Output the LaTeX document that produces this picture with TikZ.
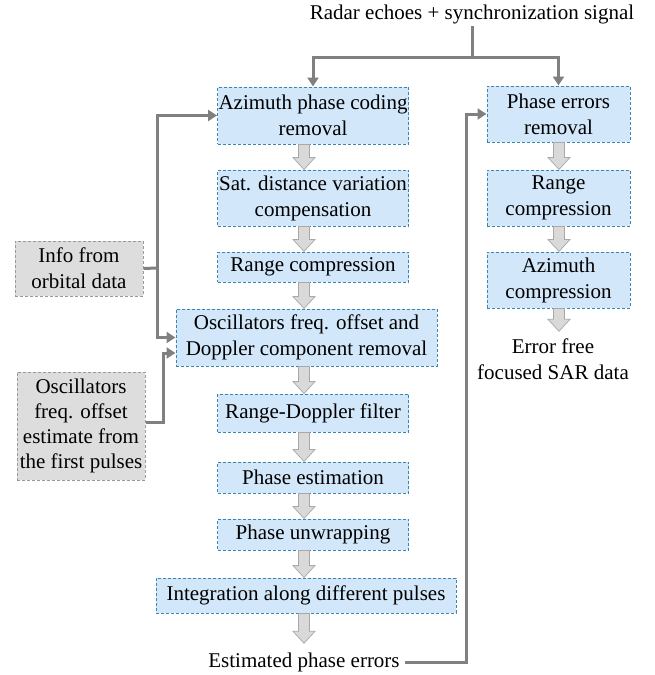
\documentclass[tikz,border=0pt]{standalone}
\usepackage{fontspec}
\setmainfont{Liberation Serif}
\newfontfamily\timesfont{Liberation Serif}
\usetikzlibrary{arrows.meta,calc}
\definecolor{bfill}{HTML}{D2E7F9}
\definecolor{bline}{HTML}{3A86B0}
\definecolor{gfill}{HTML}{DDDDDD}
\definecolor{gline}{HTML}{9A9A9A}
\definecolor{bafill}{HTML}{D9D9D9}
\definecolor{baline}{HTML}{A8A8A8}
\definecolor{conncol}{HTML}{808080}
\newcommand\blockarr[3]{\filldraw[draw=baline,fill=bafill,line width=0.7pt] let \p1=#2, \p2=#3 in
  (#1pt-5.5pt,\y1) -- (#1pt+5.5pt,\y1) -- (#1pt+5.5pt,\y2+12pt) -- (#1pt+11pt,\y2+12pt) --
  (#1pt,\y2) -- (#1pt-11pt,\y2+12pt) -- (#1pt-5.5pt,\y2+12pt) -- cycle;}
\begin{document}
\begin{tikzpicture}[x=1pt,y=-1pt,font=\timesfont\fontsize{21}{26}\selectfont,
  proc/.style={draw=bline,dash pattern=on 3pt off 2pt,line width=1pt,fill=bfill,align=center,inner sep=0pt},
  gbox/.style={draw=gline,dash pattern=on 3pt off 2pt,line width=1pt,fill=gfill,align=center,inner sep=0pt},
  plain/.style={align=center,inner sep=0pt},
  conn/.style={draw=conncol,line width=3pt},
  arr/.style={conn,-{Triangle[length=9pt,width=11pt]}}]
\useasboundingbox (0,0) rectangle (655,675);
% left column
\node[proc,minimum width=191pt,minimum height=57pt] (az) at (313,115.5) {Azimuth phase coding\\removal};
\node[proc,minimum width=191pt,minimum height=56pt] (sat) at (313,198) {Sat. distance variation\\compensation};
\node[proc,minimum width=191pt,minimum height=30pt] (rc) at (313,267) {Range compression};
\node[proc,minimum width=261pt,minimum height=57pt] (osc) at (306.5,337.5) {Oscillators freq. offset and\\Doppler component removal};
\node[proc,minimum width=191pt,minimum height=38pt] (rd) at (313,413) {Range-Doppler filter};
\node[proc,minimum width=191pt,minimum height=31pt] (pest) at (313,477.5) {Phase estimation};
\node[proc,minimum width=191pt,minimum height=31pt] (pu) at (313,534.5) {Phase unwrapping};
\node[proc,minimum width=300pt,minimum height=35pt] (integ) at (306,595.5) {Integration along different pulses};
\node[plain] (est) at (304,662) {Estimated phase errors};
% top
\node[plain] (radar) at (472,14) {Radar echoes + synchronization signal};
% right column
\node[proc,minimum width=143pt,minimum height=56pt] (pe) at (558.5,114) {Phase errors\\removal};
\node[proc,minimum width=143pt,minimum height=56pt] (rc2) at (558.5,198) {Range\\compression};
\node[proc,minimum width=143pt,minimum height=56pt] (ac) at (558.5,280) {Azimuth\\compression};
\node[plain] (ef) at (553,359) {Error free\\focused SAR data};
% left inputs
\node[gbox,minimum width=128pt,minimum height=55pt] (info) at (79,268.5) {Info from\\orbital data};
\node[gbox,minimum width=128pt,minimum height=108pt,font=\timesfont\fontsize{21}{25}\selectfont] (osc2) at (81,426) {Oscillators\\freq. offset\\estimate from\\the first pulses};
% block arrows
\blockarr{304}{(az.south)}{(sat.north)}
\blockarr{304}{(sat.south)}{(rc.north)}
\blockarr{304}{(rc.south)}{(osc.north)}
\blockarr{304}{(osc.south)}{(rd.north)}
\blockarr{304}{(rd.south)}{(pest.north)}
\blockarr{304}{(pest.south)}{(pu.north)}
\blockarr{304}{(pu.south)}{(integ.north)}
\blockarr{304}{(integ.south)}{($(est.north)+(0,-9)$)}
\blockarr{559}{(pe.south)}{(rc2.north)}
\blockarr{559}{(rc2.south)}{(ac.north)}
\blockarr{559}{(ac.south)}{($(ef.north)+(0,-7)$)}
% connectors
\coordinate (top) at (472,57);
\draw[conn] ($(radar.south)+(0,2)$) -- (top);
\draw[arr] (top) -| (az.north);
\draw[arr] (top) -| (pe.north);
\coordinate (j1) at (157,268);
\draw[conn] (info.east) -- (j1);
\draw[arr] (j1) |- (az.west);
\draw[arr] (j1) |- (osc.west);
\coordinate (j3) at (163,422);
\draw[arr] ($(osc2.east)+(0,-4)$) -- (j3) |- ($(osc.west)+(0,15.5)$);
\coordinate (j2) at (466,662);
\draw[arr] ($(est.east)+(5,0)$) -- (j2) |- (pe.west);
\end{tikzpicture}
\end{document}
